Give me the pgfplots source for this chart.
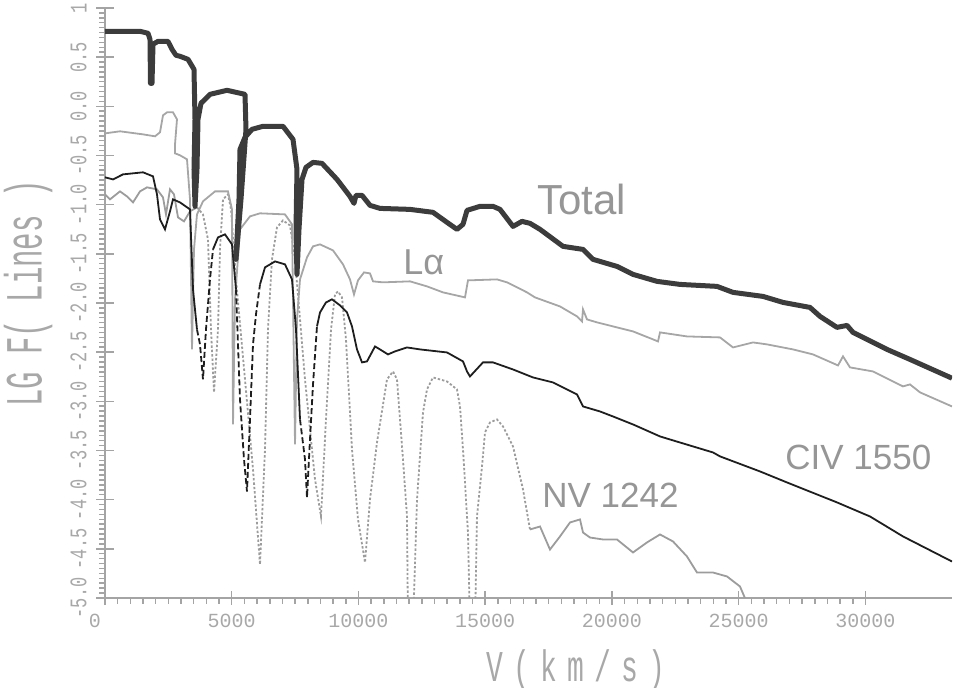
\documentclass[border=0pt]{standalone}
\usepackage{fontspec}
\setmainfont{Liberation Sans}
\newfontfamily\plotfont{Liberation Mono}
\usepackage{graphicx}
\usepackage{pgfplots}
\pgfplotsset{compat=1.18}
\definecolor{axisgray}{HTML}{A4A4A4}
\definecolor{tickgray}{HTML}{A8A8A8}
\definecolor{totalc}{HTML}{3C3C3C}
\definecolor{lyac}{HTML}{A6A6A6}
\definecolor{civc}{HTML}{1E1E1E}
\definecolor{nvc}{HTML}{9C9C9C}
\definecolor{labc}{HTML}{969696}
\newcommand\sy[1]{\scalebox{1}[1.4]{#1}}
\newcommand\lb[1]{\makebox[13.5pt]{#1}}
\begin{document}
\begin{tikzpicture}
\path[use as bounding box] (-52.5pt,-45pt) rectangle (424.5pt,299pt);
\begin{axis}[
  scale only axis, width=423.5pt, height=295pt,
  xmin=0, xmax=33414, ymin=-5, ymax=1,
  axis x line*=bottom, axis y line*=left,
  axis line style={-, draw=axisgray, line width=1pt},
  clip mode=individual,
  scaled x ticks=false,
  xtick={0,5000,...,30000},
  xticklabels={\hspace*{-10pt}0,5000,10000,15000,20000,25000,30000},
  minor x tick num=9,
  ytick={-5,-4.5,...,1},
  yticklabels={\sy{-5.0},\sy{-4.5},\sy{-4.0},\sy{-3.5},\sy{-3.0},\sy{-2.5},\sy{-2.0},\sy{-1.5},\sy{-1.0},\sy{-0.5},\sy{0.0},\sy{0.5},\sy{1}},
  minor y tick num=9,
  tick align=outside,
  major tick length=3.5pt, minor tick length=3pt,
  every tick/.style={draw=axisgray, line width=0.75pt},
  extra x ticks={0,5000,...,30000}, extra x tick labels={},
  extra x tick style={tick align=center, major tick length=6.5pt},
  extra y ticks={-5,-4.5,...,1}, extra y tick labels={},
  extra y tick style={tick align=center, major tick length=9pt},
  xticklabel style={font=\plotfont\fontsize{10}{12}\selectfont, text=tickgray, inner sep=4.5pt},
  yticklabel style={font=\plotfont\fontsize{8.5}{10}\selectfont, text=tickgray, rotate=90, anchor=south, inner sep=5.5pt},
  xlabel={\plotfont\fontsize{14}{16}\selectfont\scalebox{1}[1.57]{\lb{V}\lb{(}\lb{k}\lb{m}\lb{/}\lb{s}\lb{)}}},
  xlabel style={at={(axis description cs:0.5555,-0.122)}, anchor=center, text=tickgray},
  ylabel={\plotfont\fontsize{14.5}{16}\selectfont\scalebox{1}[1.8]{LG F( Lines )}},
  ylabel style={at={(axis description cs:-0.0909,0.516)}, anchor=center, text=tickgray},
]
% NV 1242
\addplot[nvc, line width=0.9pt] coordinates {(0,-0.895) (197,-0.946) (592,-0.865) (868,-0.916) (1105,-0.977) (1381,-0.865) (1657,-0.824) (2051,-0.844) (2288,-0.926) (2406,-1.099) (2564,-0.844) (2722,-0.895) (2880,-1.129) (3117,-1.170) (3353,-1.068) (3629,-1.027)};
\addplot[nvc, line width=0.9pt, dash pattern=on 1.2pt off 1pt] coordinates {(3629,-1.027) (3866,-1.099) (4063,-1.353) (4182,-2.269) (4300,-2.909) (4458,-2.269) (4537,-1.455) (4655,-0.946) (4852,-0.895) (4971,-1.048) (5168,-1.760) (5523,-2.777) (5839,-3.693) (6115,-4.659) (6312,-3.489) (6430,-2.269) (6588,-1.556) (6785,-1.231) (7022,-1.160) (7298,-1.211) (7496,-1.556) (7890,-2.777) (8285,-3.794) (8521,-4.171) (8718,-3.184) (8916,-2.269) (9074,-1.913) (9192,-1.882) (9350,-1.943) (9507,-2.370) (9744,-3.489) (9981,-4.201) (10257,-4.639) (10454,-3.998) (10730,-3.418) (11125,-2.777) (11362,-2.696) (11519,-2.777) (11756,-3.591) (11914,-4.171) (11953,-5.3) (12151,-5.3) (12309,-3.998) (12545,-3.113) (12703,-2.879) (12940,-2.757) (13492,-2.798) (13886,-2.879) (14005,-3.052) (14123,-3.489) (14320,-4.334) (14399,-5.3) (14596,-5.3) (14675,-4.171) (14873,-3.662) (14991,-3.316) (15188,-3.215) (15464,-3.184) (15701,-3.255) (16096,-3.459) (16490,-3.896) (16766,-4.303)};
\addplot[nvc, line width=0.9pt] coordinates {(16766,-4.303) (17161,-4.273) (17555,-4.507) (17950,-4.374) (18344,-4.232) (18739,-4.201) (18857,-4.334) (19133,-4.385) (19646,-4.405) (20198,-4.405) (20830,-4.537) (21382,-4.435) (21895,-4.354) (22408,-4.425) (22960,-4.578) (23354,-4.741) (23986,-4.741) (24538,-4.781) (25051,-4.883) (25327,-5.05)};
% Lyman alpha
\addplot[lyac, line width=0.9pt] coordinates {(0,-0.275) (592,-0.254) (1499,-0.285) (1973,-0.305) (2170,-0.264) (2288,-0.092) (2446,-0.061) (2683,-0.061) (2840,-0.132) (2762,-0.387) (2762,-0.478) (2959,-0.498) (3235,-0.539) (3353,-0.946) (3432,-2.472) (3511,-1.455) (3629,-1.099) (3866,-0.966) (4340,-0.865) (4852,-0.865) (5010,-1.048) (5050,-3.235) (5129,-1.963) (5326,-1.251) (5720,-1.119) (6115,-1.088) (7101,-1.099) (7377,-1.200) (7496,-3.438) (7574,-2.167) (7693,-1.760) (7969,-1.536) (8206,-1.424) (8482,-1.404) (8995,-1.465) (9389,-1.607) (9665,-1.760) (9823,-1.913) (9981,-1.770) (10218,-1.689) (10454,-1.699) (10573,-1.780) (10967,-1.790) (12032,-1.780) (12703,-1.831) (13334,-1.892) (14202,-1.943) (14320,-1.770) (15464,-1.760) (15859,-1.790) (16648,-1.892) (16963,-1.943) (17950,-2.035) (18620,-2.136) (18818,-2.187) (18857,-2.065) (19015,-2.167) (19409,-2.197) (20830,-2.289) (21619,-2.370) (21816,-2.391) (21895,-2.299) (22960,-2.340) (24262,-2.350) (24775,-2.452) (25564,-2.401) (26116,-2.421) (27142,-2.472) (27931,-2.523) (28917,-2.635) (29114,-2.543) (29390,-2.655) (30298,-2.696) (31481,-2.848) (31757,-2.828) (32152,-2.909) (33414,-3.052)};
% CIV 1550
\addplot[civc, line width=0.9pt] coordinates {(0,-0.722) (316,-0.743) (710,-0.692) (1499,-0.671) (1894,-0.712) (2051,-0.895) (2170,-1.150) (2367,-1.251) (2564,-1.068) (2683,-0.946) (2959,-0.977) (3353,-1.048) (3472,-1.862) (3629,-2.269)};
\addplot[civc, line width=0.9pt, dash pattern=on 3pt off 1.5pt] coordinates {(3629,-2.269) (3748,-2.421) (3866,-2.777) (3984,-2.269) (4142,-1.760) (4261,-1.455)};
\addplot[civc, line width=0.9pt] coordinates {(4261,-1.455) (4458,-1.333) (4734,-1.302) (5010,-1.404) (5168,-1.862)};
\addplot[civc, line width=0.9pt, dash pattern=on 3pt off 1.5pt] coordinates {(5168,-1.862) (5326,-2.981) (5484,-3.591) (5602,-3.917) (5720,-3.184) (5839,-2.421) (5957,-2.116) (6115,-1.811)};
\addplot[civc, line width=0.9pt] coordinates {(6115,-1.811) (6312,-1.638) (6707,-1.577) (7101,-1.607) (7377,-1.760) (7535,-2.269) (7693,-3.184)};
\addplot[civc, line width=0.9pt, dash pattern=on 3pt off 1.5pt] coordinates {(7693,-3.184) (7890,-3.591) (7969,-3.978) (8087,-3.388) (8206,-2.828) (8363,-2.238)};
\addplot[civc, line width=0.9pt] coordinates {(8363,-2.238) (8482,-2.096) (8718,-1.994) (8955,-1.963) (9271,-2.024) (9547,-2.096) (9744,-2.238) (9941,-2.472) (10139,-2.604) (10336,-2.594) (10652,-2.442) (10849,-2.472) (11164,-2.523) (11441,-2.492) (11914,-2.452) (12427,-2.472) (13492,-2.503) (14123,-2.594) (14281,-2.696) (14399,-2.747) (14912,-2.604) (15307,-2.604) (16096,-2.676) (16885,-2.757) (17674,-2.808) (18620,-2.930) (18857,-3.052) (19528,-3.103) (20041,-3.154) (20830,-3.235) (21895,-3.357) (22289,-3.388) (23986,-3.520) (24262,-3.560) (25840,-3.713) (26905,-3.825) (28877,-4.028) (30179,-4.171) (31481,-4.374) (33414,-4.629)};
% Total
\addplot[totalc, line width=2.5pt, line join=round] coordinates {(0,0.763) (1381,0.763) (1696,0.743) (1775,0.682) (1795,0.234) (1854,0.234) (1894,0.631) (2091,0.661) (2485,0.661) (2643,0.580) (2801,0.519) (2959,0.509) (3274,0.478) (3511,0.376) (3551,-0.132) (3511,-0.641) (3551,-1.017) (3629,-0.641) (3669,-0.132) (3787,0.031) (4142,0.122) (4813,0.163) (5523,0.122) (5562,-0.234) (5365,-0.946) (5168,-1.556) (5286,-0.946) (5326,-0.437) (5523,-0.315) (5799,-0.234) (6233,-0.203) (7022,-0.203) (7417,-0.336) (7574,-0.641) (7535,-1.251) (7574,-1.709) (7653,-1.251) (7772,-0.743) (7929,-0.621) (8206,-0.570) (8561,-0.580) (9153,-0.743) (9665,-0.916) (9823,-0.987) (9902,-0.905) (10139,-0.905) (10454,-1.007) (10849,-1.038) (12032,-1.048) (12940,-1.078) (13492,-1.180) (13886,-1.251) (14123,-1.200) (14281,-1.058) (14794,-1.017) (15307,-1.017) (15583,-1.048) (16096,-1.221) (16451,-1.170) (16766,-1.190) (17161,-1.251) (18068,-1.424) (18857,-1.455) (19252,-1.556) (20198,-1.628) (20830,-1.709) (21776,-1.780) (22684,-1.811) (24143,-1.831) (24775,-1.892) (25958,-1.933) (26747,-1.994) (27812,-2.045) (28207,-2.136) (28877,-2.248) (29272,-2.228) (29509,-2.299) (30850,-2.472) (31757,-2.574) (33414,-2.765)};
\node[anchor=base west, inner sep=0, text=labc, font=\fontsize{21}{24}\selectfont] at (axis cs:17042,-1.099) {Total};
\node[anchor=base west, inner sep=0, text=labc, font=\fontsize{18}{20}\selectfont] at (axis cs:11756,-1.709) {Lα};
\node[anchor=base west, inner sep=0, text=labc, font=\fontsize{17.5}{20}\selectfont] at (axis cs:26826,-3.693) {CIV 1550};
\node[anchor=base west, inner sep=0, text=labc, font=\fontsize{17.5}{20}\selectfont] at (axis cs:17240,-4.079) {NV 1242};
\end{axis}
\end{tikzpicture}
\end{document}
